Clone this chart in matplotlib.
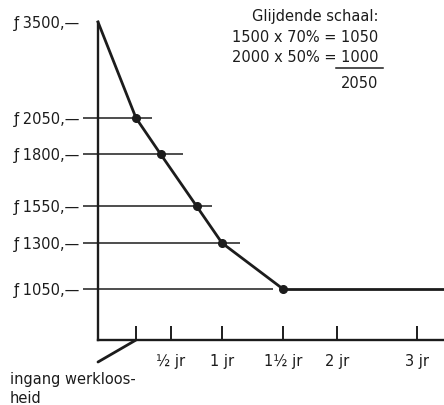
"""
Glijdende schaal van de werkloosheidsuitkering (nagetekend)
"""
import numpy as np
import matplotlib as mpl
import matplotlib.pyplot as plt
from matplotlib.lines import Line2D

mpl.rcParams['font.family'] = ['DejaVu Sans']
mpl.rcParams['font.size'] = 10.5

INK = '#1c1c1c'

# data: uitkering in guldens tegen tijd (jaren na ingang werkloosheid)
years = [-0.5, 0.0, 0.35, 0.75, 1.0, 1.5]
amounts = [3500, 2050, 1800, 1550, 1300, 1050]

# hulplijnen per niveau en hoe ver ze naar rechts lopen
levels = [3500, 2050, 1800, 1550, 1300, 1050]
level_labels = ['ƒ 3500,\u2014', 'ƒ 2050,\u2014', 'ƒ 1800,\u2014',
                'ƒ 1550,\u2014', 'ƒ 1300,\u2014', 'ƒ 1050,\u2014']
guide_levels = [2050, 1800, 1550, 1300, 1050]
guide_ends = [0.23, 0.62, 0.90, 1.15, 1.42]

xtick_years = [0, 0.5, 1, 1.5, 2, 3]
xtick_labels = ['', '½ jr', '1 jr', '1½ jr', '2 jr', '3 jr']

calc_lines = ['Glijdende schaal:', '1500 x 70% = 1050',
              '2000 x 50% = 1000', '2050']

# de tekening is met de hand geschaald: stuksgewijs lineaire assen
x_anchor = [-1.0, -0.5, 0.0, 0.5, 1.0, 1.5, 2.0, 3.0, 3.5]
x_anchor_pos = [-38, 0, 38, 73, 124, 185, 239, 319, 359]
y_anchor = [500, 773, 1050, 1300, 1550, 1800, 2050, 3500, 4000]
y_anchor_pos = [-50, 0, 51, 97, 134, 186, 222, 318, 400]


def fwd_x(v):
    return np.interp(v, x_anchor, x_anchor_pos)


def inv_x(p):
    return np.interp(p, x_anchor_pos, x_anchor)


def fwd_y(v):
    return np.interp(v, y_anchor, y_anchor_pos)


def inv_y(p):
    return np.interp(p, y_anchor_pos, y_anchor)


fig = plt.figure(figsize=(4.44, 4.05), dpi=100)
ax = fig.add_axes([98 / 444, 65 / 405, 346 / 444, 318 / 405])
ax.set_xscale('function', functions=(fwd_x, inv_x))
ax.set_yscale('function', functions=(fwd_y, inv_y))
ax.set_xlim(-0.5, inv_x(346))
ax.set_ylim(773, 3500)

# hulplijnen vanaf de bedragen
ax.hlines(guide_levels, -0.7, guide_ends, color=INK, lw=1.1,
          clip_on=False, zorder=2)

# verloop van de uitkering
ax.plot(years, amounts, color=INK, lw=2, zorder=4, clip_on=False)
ax.plot(years[1:], amounts[1:], 'o', color=INK, ms=5.5, zorder=5)
ax.hlines(amounts[-1], years[-1], inv_x(346), color=INK, lw=2, zorder=4)

# assen
for side in ['top', 'right']:
    ax.spines[side].set_visible(False)
for side in ['left', 'bottom']:
    ax.spines[side].set_linewidth(1.7)
    ax.spines[side].set_color(INK)

ax.set_yticks(levels)
ax.set_yticklabels(level_labels)
ax.tick_params(axis='y', length=0, pad=13, labelcolor=INK)
ax.set_xticks(xtick_years)
ax.set_xticklabels(xtick_labels)
ax.tick_params(axis='x', direction='in', length=10, width=1.4, pad=10,
               color=INK, labelcolor=INK)
ax.minorticks_off()

# pijltje naar het begin van de werkloosheid
ax.annotate('', xy=(0, 773), xytext=(-38, -22), textcoords='offset pixels',
            arrowprops=dict(arrowstyle='-', lw=2, color=INK,
                            shrinkA=0, shrinkB=0),
            annotation_clip=False)
fig.text(10 / 444, 1 - 372 / 405, 'ingang werkloos-\nheid', ha='left',
         va='top', color=INK, linespacing=1.3)

# berekening rechtsboven
for i, line in enumerate(calc_lines):
    y = [16, 37, 57, 84][i]
    fig.text(378 / 444, 1 - y / 405, line, ha='right', va='center',
             color=INK)
fig.add_artist(Line2D([336 / 444, 383 / 444], [1 - 68 / 405, 1 - 68 / 405],
                      color=INK, lw=1.1))

fig.savefig('out.png', dpi=100)
